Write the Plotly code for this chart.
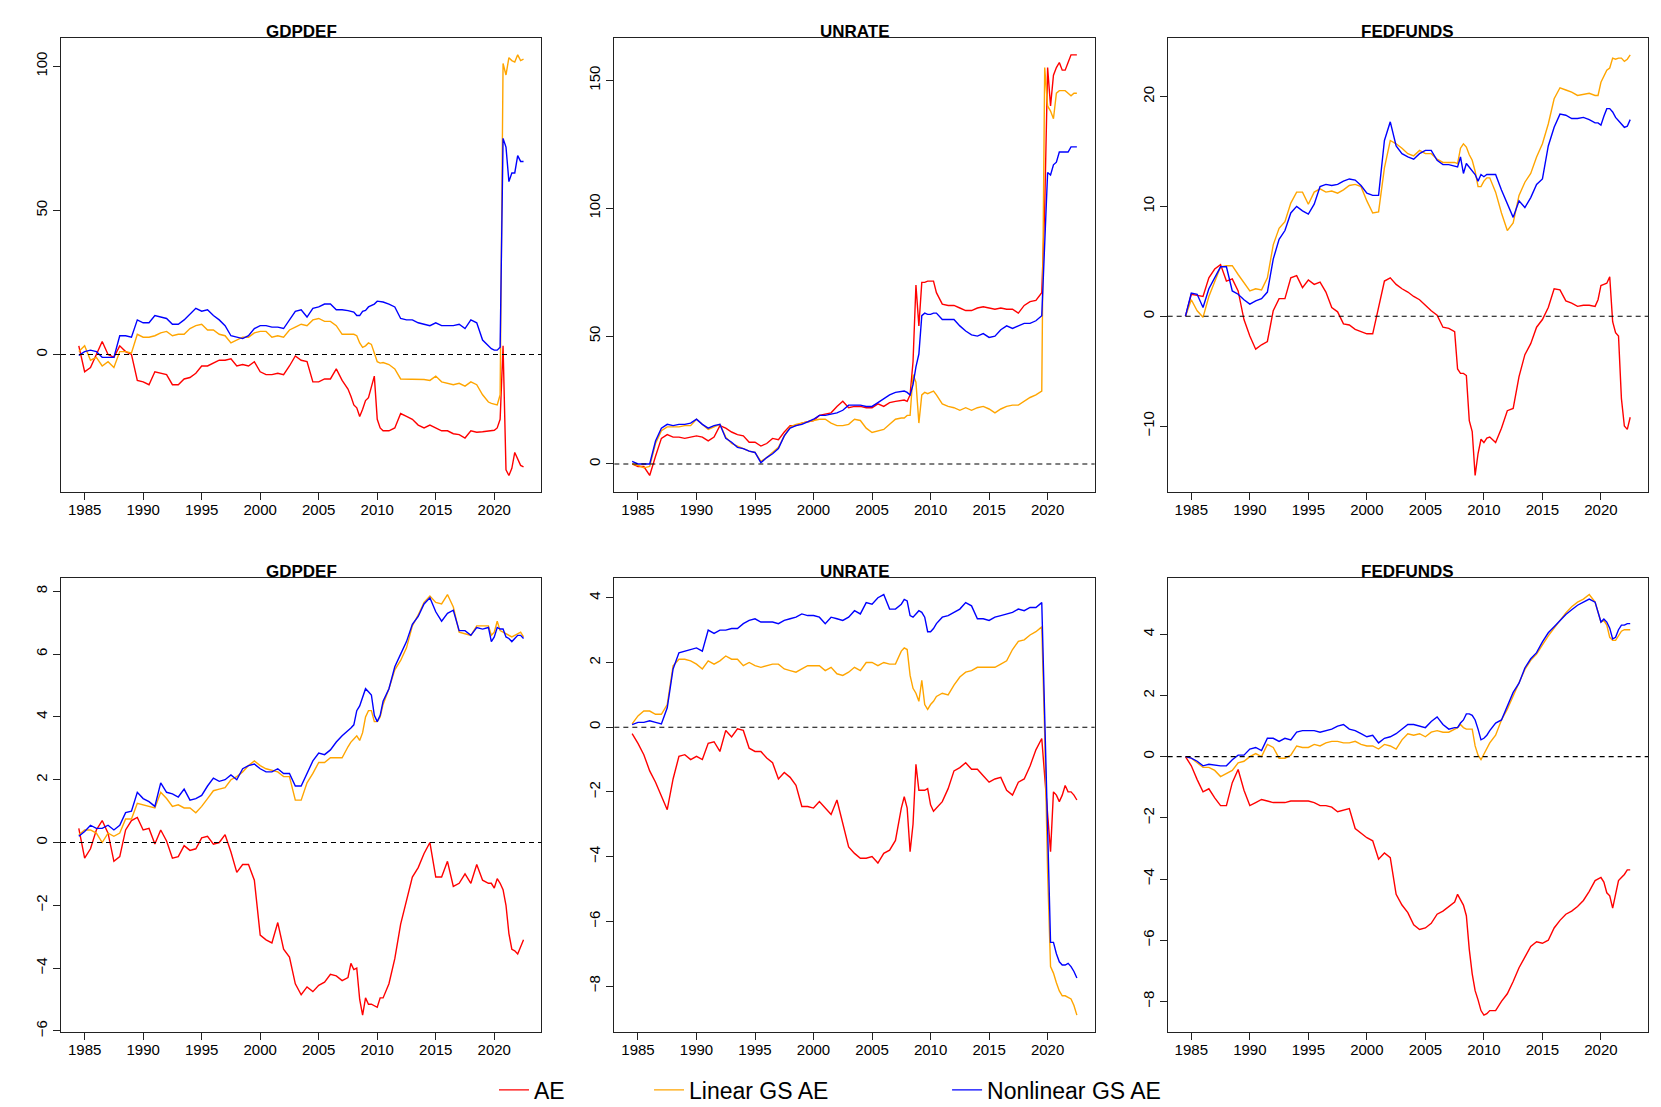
import numpy as np
import plotly.graph_objects as go
from plotly.subplots import make_subplots

# sample dates (decimal years): half-yearly, quarterly around 2008-10 and from 2019Q4
dates = (list(np.arange(1984.5, 2007.51, 0.5)) + list(np.arange(2007.75, 2010.51, 0.25))
         + list(np.arange(2011.0, 2019.51, 0.5)) + list(np.arange(2019.75, 2022.51, 0.25)))

# ---- top row ----
gdpdef_a_ae = [
    3, -6, -4.5, 0, 4.5, 0, -1, 3, 1, 0,
    -9, -9.5, -10.5, -6, -6.5, -7, -10.5, -10.5, -8.5, -8,
    -6.5, -4, -4, -3, -2, -2, -1.5, -4, -3.5, -4,
    -2.5, -6, -7, -7, -6.5, -7, -4, -0.5, -2, -2.5,
    -9.5, -9.5, -8.5, -8.5, -5, -9, -12,
    -14.5, -17.5, -18.5, -21.5, -19, -16, -15, -11, -7.5, -22.5, -25.5, -26.5,
    -26.5, -25.5, -20.5, -21.5, -22.5, -24.5, -25.5, -24.5, -25.5, -26.5, -26.5, -27.5, -27.8, -29, -26.5, -27, -26.8, -26.5,
    -26.5, -26.3, -25.5, -22.5, 3, -40, -42, -39.5, -34, -36, -38.5, -39,
]
gdpdef_a_lin = [
    1, 3, -2, -1, -4, -2.5, -4.5, 1, 1, 0.5,
    7, 6, 6, 6.5, 7.5, 8, 6.5, 7, 7, 9,
    10, 10.5, 8.5, 8.5, 7, 6.5, 4, 5, 6, 6,
    7.5, 8, 8, 6, 6.5, 6, 8.5, 9.5, 10.5, 10,
    12, 12.5, 11.5, 11.5, 10, 7, 7,
    7, 7, 6.5, 4, 2.5, 3, 4, 3.5, 0.5, -2.5, -3, -2.8,
    -3.5, -5, -8.5, -8.5, -8.5, -8.5, -8.7, -9, -7.5, -9.5, -10, -10.5, -10, -11, -9.5, -10.5, -14, -16.5,
    -17, -17.3, -17.5, -14, 101, 97, 103, 102, 101.5, 104, 102, 102.5,
]
gdpdef_a_nl = [
    -0.3, 1, 1.5, 1, -1, -1, -1, 6.5, 6.5, 6,
    12, 11, 11, 13.5, 13, 12.5, 10.5, 10.5, 12, 14,
    16, 15, 15.5, 13.5, 12, 10, 6.5, 6, 5.5, 6.5,
    9, 10, 10, 9.5, 9.5, 9, 12, 15, 15.5, 13,
    16, 16.5, 17.5, 17.5, 15.5, 15.5, 15.2,
    15, 14.7, 13.5, 13.5, 15, 15.3, 16.5, 17, 17.5, 18.5, 18.3, 18.2,
    17.5, 16.5, 12.5, 12, 12, 11, 10.5, 10, 11, 10, 10, 10, 10.5, 9, 12, 11, 5, 3,
    2, 1.5, 1.5, 2.5, 75, 72, 60, 63, 63, 69, 67, 67,
]

unrate_a_ae = [
    0, -1, -1, -4.5, 3, 10, 11.5, 10.5, 10.5, 10,
    10.5, 11, 10.5, 9, 10.5, 15, 14, 12.5, 11.5, 11,
    8.5, 8.5, 7, 8, 10, 9.5, 12.5, 15, 15, 16,
    16.5, 17, 19, 19.5, 20, 22.5, 24.5, 22, 22.5, 22.5,
    22, 22, 23.5, 22.5, 24, 24.5, 25,
    25, 24.5, 27, 40, 70, 54, 71, 71, 71.5, 71.5, 71.5, 67,
    62.5, 62, 62, 61, 60, 60, 61, 61.5, 61, 60.5, 61, 60.5, 60.5, 59, 62, 63.5, 64, 67,
    100, 155, 140, 152, 155, 157, 154, 154, 157, 160, 160, 160,
]
unrate_a_lin = [
    0, -0.5, -1.5, -1, 8, 13, 14.5, 14.5, 14.5, 15,
    15, 17.5, 15.5, 13.5, 14.5, 15.5, 10.5, 8, 7, 6,
    5, 4.5, 1, 2.5, 4.5, 6.5, 11, 14.5, 15.5, 16,
    16.5, 17, 17.5, 17.5, 16, 15, 15, 15.5, 17.5, 17,
    14, 12.3, 13, 13.5, 15.5, 17.5, 18,
    18, 19, 19, 35, 32, 16, 27, 28, 27.5, 28, 28.5, 27,
    23.5, 22.5, 22, 21, 22, 21, 22, 22.5, 21.5, 20, 21.5, 22.5, 23, 23, 24.5, 26, 27, 28.5,
    155, 140, 138, 135, 145, 146, 146, 146, 145, 144, 145, 145,
]
unrate_a_nl = [
    1, 0, 0, 0, 9, 14, 15.5, 15, 15.5, 15.5,
    16, 17.5, 15.5, 14, 15, 15.5, 10, 8.5, 6.5, 6,
    5, 4.5, 0.5, 2.5, 4, 6, 11, 14, 15, 15.5,
    16.5, 17.5, 19, 19, 19.5, 20, 21, 23, 23, 23,
    22.5, 22.5, 24, 25.5, 27, 28, 28.5,
    28.5, 28, 27, 31, 38, 43, 58, 59, 58.5, 58.5, 59, 59,
    56.5, 56.5, 56.5, 54, 52, 50.5, 50, 51, 49.5, 50, 52.5, 54, 53, 54, 55, 55, 56, 58,
    90, 114, 113, 117, 118, 122, 122, 122, 122, 124, 124, 124,
]

fedfunds_a_ae = [
    0, 2, 1.9, 1.8, 3.5, 4.3, 4.7, 3.2, 3.4, 2.3,
    -0.3, -1.8, -3, -2.6, -2.3, 0.5, 1.6, 1.6, 3.5, 3.7,
    2.6, 3.3, 2.9, 3.1, 2.2, 0.8, 0.4, -0.7, -0.8, -1.2,
    -1.4, -1.6, -1.6, 0.9, 3.2, 3.5, 2.9, 2.5, 2.2, 1.8,
    1.5, 1.0, 0.5, 0.1, -1.0, -1.1, -1.4,
    -4.8, -5.2, -5.2, -5.4, -9.5, -10.5, -14.5, -12.5, -11.2, -11.5, -11.1, -11.0,
    -11.5, -10.2, -8.6, -8.4, -5.5, -3.5, -2.5, -1.0, -0.3, 0.8, 2.5, 2.4, 1.4, 1.2, 0.9, 1.0, 1.0, 0.9,
    1.5, 2.8, 2.9, 3.0, 3.6, -0.5, -1.5, -1.8, -7.5, -10.0, -10.3, -9.2,
]
fedfunds_a_lin = [
    0, 1.5, 0.5, -0.1, 1.8, 3.2, 4.5, 4.6, 4.6, 3.8,
    3.0, 2.3, 2.5, 2.4, 3.5, 6.5, 8.0, 8.6, 10.3, 11.3,
    11.3, 10.2, 11.3, 11.6, 11.3, 11.4, 11.2, 11.5, 11.9, 12.0,
    11.8, 10.5, 9.4, 9.5, 13.5, 16.0, 15.7, 15.3, 14.8, 14.6,
    15.1, 14.8, 14.8, 14.3, 14.0, 14.0, 14.0,
    13.9, 15.3, 15.7, 15.4, 14.7, 14.2, 13.2, 11.8, 11.8, 12.3, 12.6, 12.6,
    11.3, 9.4, 7.8, 8.5, 11.0, 12.2, 13.0, 14.5, 15.7, 17.5, 19.8, 20.8, 20.6, 20.4, 20.1, 20.2, 20.3, 20.1,
    20.1, 21.3, 21.8, 22.4, 22.6, 23.5, 23.4, 23.5, 23.5, 23.2, 23.4, 23.8,
]
fedfunds_a_nl = [
    0, 2.1, 2.0, 0.8, 2.5, 3.5, 4.5, 4.5, 2.3, 2.0,
    1.5, 1.1, 1.4, 1.6, 2.2, 5.2, 7.0, 7.8, 9.4, 10.0,
    9.6, 9.3, 10.2, 11.8, 12.0, 11.9, 12.0, 12.3, 12.5, 12.4,
    11.9, 11.2, 11.0, 11.0, 16.0, 17.7, 15.5, 14.8, 14.5, 14.3,
    14.8, 15.1, 15.1, 14.2, 13.8, 13.8, 13.7,
    13.6, 14.5, 13.0, 13.9, 13.6, 13.2, 12.9, 12.3, 12.9, 12.7, 12.9, 12.9,
    12.9, 11.5, 10.2, 9.0, 10.5, 9.9, 10.8, 12.0, 12.5, 15.5, 17.2, 18.4, 18.3, 18.0, 18.0, 18.1, 17.9, 17.6,
    17.6, 17.4, 18.2, 18.9, 18.9, 18.6, 18.1, 17.8, 17.5, 17.2, 17.3, 17.9,
]

# ---- bottom row ----
gdpdef_b_ae = [
    0.45, -0.5, -0.2, 0.4, 0.7, 0.3, -0.6, -0.45, 0.4, 0.7,
    0.8, 0.4, 0.45, -0.05, 0.4, 0.05, -0.5, -0.45, -0.1, -0.25,
    -0.2, 0.15, 0.2, -0.05, 0.0, 0.25, -0.3, -0.95, -0.7, -0.7,
    -1.2, -2.95, -3.1, -3.2, -2.55, -3.4, -3.65, -4.5, -4.85, -4.6,
    -4.75, -4.55, -4.45, -4.2, -4.25, -4.4, -4.3,
    -3.85, -4.05, -4.0, -5.0, -5.5, -4.95, -5.15, -5.15, -5.2, -5.25, -4.95, -4.95,
    -4.5, -3.7, -2.6, -1.8, -1.1, -0.8, -0.35, 0.0, -1.1, -1.1, -0.6, -1.4, -1.3, -1.0, -1.3, -0.7, -1.2, -1.3,
    -1.3, -1.45, -1.15, -1.3, -1.5, -2.0, -2.9, -3.4, -3.45, -3.55, -3.3, -3.1,
]
gdpdef_b_lin = [
    0.25, 0.4, 0.4, 0.3, 0.0, 0.3, 0.2, 0.3, 0.75, 0.75,
    1.25, 1.2, 1.15, 1.1, 1.6, 1.4, 1.15, 1.2, 1.1, 1.1,
    0.95, 1.15, 1.4, 1.65, 1.7, 1.75, 2.0, 2.1, 2.25, 2.45,
    2.6, 2.45, 2.35, 2.3, 2.25, 2.1, 2.1, 1.35, 1.35, 1.9,
    2.2, 2.55, 2.55, 2.7, 2.7, 2.7, 3.05,
    3.2, 3.3, 3.4, 3.25, 3.5, 4.0, 4.2, 4.2, 3.85, 3.85, 4.0, 4.4,
    4.9, 5.5, 5.8, 6.2, 6.9, 7.25, 7.65, 7.85, 7.65, 7.6, 7.9, 7.5, 6.7, 6.65, 6.6, 6.9, 6.9, 6.9,
    6.6, 6.7, 7.05, 6.75, 6.7, 6.65, 6.6, 6.55, 6.6, 6.65, 6.7, 6.55,
]
gdpdef_b_nl = [
    0.2, 0.35, 0.55, 0.45, 0.45, 0.55, 0.4, 0.55, 0.95, 1.0,
    1.6, 1.4, 1.3, 1.15, 1.9, 1.6, 1.55, 1.45, 1.7, 1.35,
    1.4, 1.5, 1.8, 2.05, 1.95, 2.0, 2.15, 2.0, 2.35, 2.45,
    2.5, 2.35, 2.25, 2.25, 2.35, 2.2, 2.2, 1.8, 1.8, 2.2,
    2.6, 2.85, 2.8, 2.95, 3.2, 3.4, 3.55,
    3.65, 3.75, 4.2, 4.35, 4.6, 4.9, 4.8, 4.7, 4.05, 3.85, 4.05, 4.5,
    4.9, 5.6, 6.0, 6.4, 6.95, 7.2, 7.6, 7.8, 7.35, 7.05, 7.3, 7.4, 6.75, 6.75, 6.6, 6.85, 6.8, 6.85,
    6.4, 6.55, 6.85, 6.8, 6.8, 6.55, 6.5, 6.4, 6.5, 6.6, 6.6, 6.5,
]

unrate_b_ae = [
    -0.2, -0.5, -0.85, -1.35, -1.7, -2.1, -2.55, -1.6, -0.9, -0.85,
    -1.0, -0.9, -1.0, -0.5, -0.45, -0.75, -0.1, -0.3, -0.05, -0.1,
    -0.65, -0.75, -0.75, -0.95, -1.1, -1.6, -1.4, -1.55, -1.8, -2.45,
    -2.45, -2.5, -2.3, -2.5, -2.7, -2.25, -3.0, -3.7, -3.9, -4.05,
    -4.05, -4.0, -4.2, -3.9, -3.8, -3.5, -2.5,
    -2.15, -2.5, -3.85, -3.0, -1.15, -1.95, -1.95, -1.95, -1.9, -2.4, -2.6, -2.5,
    -2.3, -1.9, -1.35, -1.25, -1.1, -1.3, -1.3, -1.5, -1.7, -1.6, -1.55, -1.95, -2.1, -1.7, -1.6, -1.2, -0.7, -0.35,
    -1.6, -2.7, -3.85, -2.0, -2.1, -2.3, -2.1, -1.8, -2.0, -2.0, -2.1, -2.25,
]
unrate_b_lin = [
    0.1, 0.35, 0.5, 0.5, 0.4, 0.4, 0.7, 1.9, 2.1, 2.1,
    2.05, 1.95, 1.8, 2.05, 1.95, 2.05, 2.2, 2.1, 2.1, 1.9,
    2.0, 1.9, 1.85, 1.9, 1.95, 1.95, 1.8, 1.75, 1.7, 1.8,
    1.9, 1.9, 1.9, 1.75, 1.85, 1.65, 1.6, 1.7, 1.85, 1.75,
    2.0, 2.0, 1.9, 2.0, 1.95, 1.95, 2.35,
    2.45, 2.4, 1.6, 1.2, 1.05, 0.8, 1.45, 0.7, 0.55, 0.7, 0.8, 0.95,
    1.05, 1.0, 1.3, 1.55, 1.7, 1.75, 1.85, 1.85, 1.85, 1.85, 1.95, 2.05, 2.4, 2.65, 2.7, 2.85, 2.95, 3.1,
    -0.2, -4.5, -7.4, -7.6, -7.9, -8.15, -8.3, -8.3, -8.35, -8.4, -8.6, -8.9,
]
unrate_b_nl = [
    0.08, 0.15, 0.15, 0.2, 0.15, 0.1, 0.6, 1.8, 2.3, 2.35,
    2.4, 2.45, 2.35, 3.0, 2.9, 3.0, 3.0, 3.05, 3.05, 3.2,
    3.3, 3.35, 3.25, 3.25, 3.25, 3.2, 3.3, 3.35, 3.4, 3.5,
    3.45, 3.45, 3.4, 3.2, 3.4, 3.35, 3.3, 3.4, 3.6, 3.5,
    3.85, 3.8, 4.0, 4.1, 3.65, 3.65, 3.8,
    3.95, 3.9, 3.45, 3.4, 3.5, 3.6, 3.55, 3.4, 2.95, 2.95, 3.05, 3.2,
    3.4, 3.45, 3.55, 3.65, 3.85, 3.75, 3.35, 3.35, 3.3, 3.4, 3.45, 3.5, 3.55, 3.65, 3.6, 3.7, 3.7, 3.85,
    0.4, -3.2, -6.65, -6.65, -7.0, -7.25, -7.35, -7.35, -7.3, -7.4, -7.55, -7.75,
]

fedfunds_b_ae = [
    0.0, -0.3, -0.75, -1.15, -1.05, -1.35, -1.6, -1.6, -0.85, -0.42,
    -1.1, -1.6, -1.5, -1.4, -1.45, -1.5, -1.5, -1.5, -1.45, -1.45,
    -1.45, -1.45, -1.5, -1.6, -1.6, -1.65, -1.8, -1.75, -1.7, -2.35,
    -2.5, -2.65, -2.75, -3.35, -3.15, -3.3, -4.5, -4.85, -5.1, -5.5,
    -5.65, -5.6, -5.45, -5.15, -5.05, -4.9, -4.75,
    -4.5, -4.7, -4.85, -5.2, -6.3, -7.1, -7.65, -7.95, -8.3, -8.45, -8.4, -8.3,
    -8.3, -8.0, -7.75, -7.35, -6.9, -6.55, -6.2, -6.05, -6.1, -6.0, -5.6, -5.35, -5.15, -5.05, -4.9, -4.7, -4.4, -4.05,
    -4.0, -3.95, -4.1, -4.45, -4.55, -4.95, -4.5, -4.05, -3.95, -3.85, -3.7, -3.7,
]
fedfunds_b_lin = [
    0.0, -0.05, -0.2, -0.35, -0.35, -0.45, -0.65, -0.55, -0.45, -0.2,
    -0.15, 0.0, 0.1, 0.0, 0.4, 0.3, -0.05, -0.05, 0.05, 0.35,
    0.3, 0.3, 0.4, 0.35, 0.45, 0.5, 0.5, 0.45, 0.45, 0.5,
    0.4, 0.35, 0.35, 0.25, 0.4, 0.35, 0.25, 0.55, 0.75, 0.7,
    0.75, 0.65, 0.8, 0.85, 0.8, 0.8, 0.9,
    0.95, 1.05, 0.95, 0.9, 0.9, 0.9, 0.35, 0.05, -0.1, 0.1, 0.3, 0.45,
    0.7, 1.2, 1.55, 2.0, 2.4, 2.85, 3.15, 3.35, 3.65, 3.95, 4.2, 4.45, 4.7, 4.9, 5.05, 5.15, 5.3, 5.05,
    4.75, 4.4, 4.45, 4.3, 3.9, 3.8, 3.8, 3.95, 4.1, 4.15, 4.15, 4.15,
]
fedfunds_b_nl = [
    0.0, -0.05, -0.15, -0.3, -0.25, -0.28, -0.3, -0.3, -0.1, 0.05,
    0.05, 0.25, 0.3, 0.2, 0.6, 0.6, 0.5, 0.6, 0.55, 0.8,
    0.85, 0.85, 0.85, 0.8, 0.85, 0.9, 1.0, 1.05, 0.9, 0.85,
    0.75, 0.65, 0.7, 0.45, 0.6, 0.65, 0.75, 0.9, 1.05, 1.05,
    1.0, 0.95, 1.15, 1.3, 1.05, 0.9, 0.95,
    0.95, 1.1, 1.2, 1.4, 1.4, 1.35, 1.2, 0.9, 0.55, 0.6, 0.7, 0.85,
    1.1, 1.2, 1.65, 2.1, 2.4, 2.9, 3.2, 3.4, 3.75, 4.05, 4.25, 4.45, 4.65, 4.8, 4.95, 5.05, 5.15, 5.05,
    4.75, 4.4, 4.5, 4.4, 4.2, 3.85, 3.9, 4.15, 4.3, 4.3, 4.35, 4.35,
]

titles = ["GDPDEF", "UNRATE", "FEDFUNDS", "GDPDEF", "UNRATE", "FEDFUNDS"]
series_names = ["AE", "Linear GS AE", "Nonlinear GS AE"]
colors = ["#FF0000", "#FFA500", "#0000FF"]

panels = [
    (gdpdef_a_ae, gdpdef_a_lin, gdpdef_a_nl, 50),
    (unrate_a_ae, unrate_a_lin, unrate_a_nl, 50),
    (fedfunds_a_ae, fedfunds_a_lin, fedfunds_a_nl, 10),
    (gdpdef_b_ae, gdpdef_b_lin, gdpdef_b_nl, 2),
    (unrate_b_ae, unrate_b_lin, unrate_b_nl, 2),
    (fedfunds_b_ae, fedfunds_b_lin, fedfunds_b_nl, 2),
]

font = "Liberation Sans, Arial, Helvetica, sans-serif"

# the page body is offset by 8px, so the figure is sized to end at the window edge
W, H = 1653, 1099
fig = make_subplots(rows=2, cols=3, subplot_titles=titles,
                    horizontal_spacing=0.046, vertical_spacing=0.0859)

# R-style axis extent: data range padded by 4% on each side
x_pad = 0.04 * (dates[-1] - dates[0])
x_range = [dates[0] - x_pad, dates[-1] + x_pad]
legend_ids = ["legend", "legend2", "legend3"]

for i, (ae, lin, nl, dtick) in enumerate(panels):
    row, col = i // 3 + 1, i % 3 + 1
    for j, ys in enumerate((ae, lin, nl)):
        assert len(ys) == len(dates), (titles[i], j, len(ys))
        fig.add_trace(go.Scatter(
            x=dates, y=ys, mode="lines", name=series_names[j],
            line=dict(color=colors[j], width=1.4),
            showlegend=(i == 0), legend=legend_ids[j],
        ), row=row, col=col)
    lo = min(min(ae), min(lin), min(nl))
    hi = max(max(ae), max(lin), max(nl))
    pad = 0.04 * (hi - lo)
    fig.add_hline(y=0, line=dict(color="black", width=1.1, dash="5px,4px"), row=row, col=col)
    fig.update_yaxes(range=[lo - pad, hi + pad], dtick=dtick, tick0=0, tickangle=-90,
                     row=row, col=col)
    fig.update_xaxes(range=x_range, dtick=5, tick0=1985, row=row, col=col)

axis_style = dict(showgrid=False, zeroline=False, showline=True, mirror=True,
                  linecolor="#222", linewidth=1, ticks="outside", ticklen=7,
                  tickcolor="#222", tickfont=dict(size=15, color="black"),
                  automargin=False)
fig.update_xaxes(ticklabelstandoff=-3, **axis_style)
fig.update_yaxes(**axis_style)

for ann in fig.layout.annotations:
    ann.font = dict(size=17, color="black", family=font)
    ann.text = "<b>" + ann.text + "</b>"
    ann.yshift = -5

legend_style = dict(orientation="h", xref="container", yref="container",
                    yanchor="middle", y=0.0155, xanchor="left",
                    font=dict(size=23, color="black"), bgcolor="rgba(0,0,0,0)")
fig.update_layout(
    width=W, height=H,
    margin=dict(l=53, r=13, t=30, b=75),
    paper_bgcolor="white", plot_bgcolor="white",
    font=dict(family=font, color="black"),
    legend=dict(x=0.2940, **legend_style),
    legend2=dict(x=0.3878, **legend_style),
    legend3=dict(x=0.5681, **legend_style),
)

fig.write_html("out.html")
